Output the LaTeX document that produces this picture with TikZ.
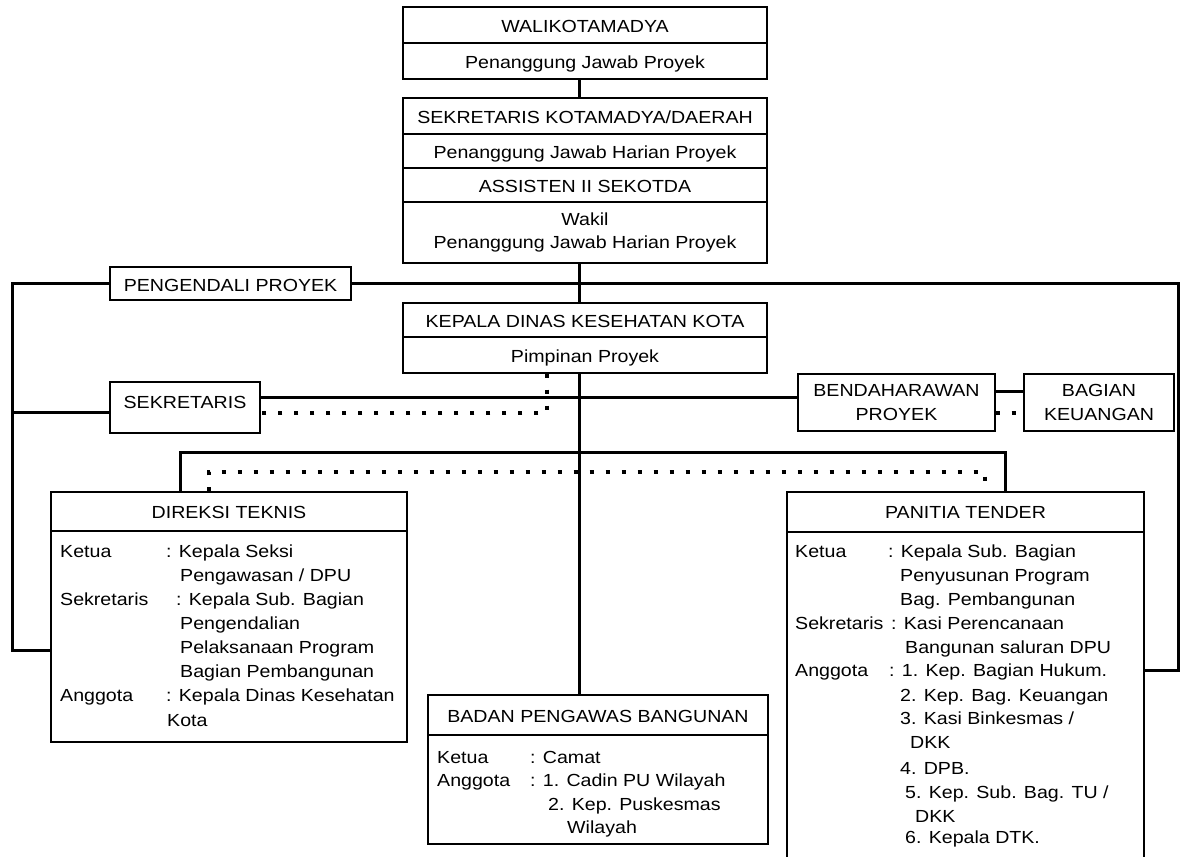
\documentclass[tikz,border=0pt]{standalone}
\usepackage{fontspec}
\setmainfont{Liberation Sans}[FakeStretch=1.12]
\begin{document}
\begin{tikzpicture}[x=1pt,y=-1pt,
  every node/.style={font=\fontsize{17.5}{23.5}\selectfont},
  box/.style={draw, line width=1.3pt, inner sep=0pt, align=center, text height=15pt, text depth=0pt},
  box2/.style={draw, line width=1.3pt, inner sep=0pt, align=center},
  txt/.style={inner sep=0pt, anchor=base west},
  conn/.style={line width=3pt},
  dot/.style={line width=3.5pt, dash pattern=on 4.5pt off 11.5pt},
]
\useasboundingbox (0,0) rectangle (1182,856);
\clip (0,0) rectangle (1182,856);
\fill[white] (0,0) rectangle (1182,856);

% coordinates for connector routing
\coordinate (sp) at (579,0);
\coordinate (L) at (12,0);
\coordinate (R) at (1178,0);
\coordinate (pl) at (12,650);
\coordinate (pr) at (1178,670);
\coordinate (sl) at (12,412);
\coordinate (s1) at (0,397);
\coordinate (bb) at (0,391);
\coordinate (db) at (0,413);
\coordinate (dk) at (547,413);
\coordinate (b1) at (180,452);
\coordinate (b2) at (1005,452);
\coordinate (d1) at (209,472);
\coordinate (d2) at (985,472);

% top boxes
\node[box, minimum width=364pt, minimum height=36pt] (w1) at (585,25) {WALIKOTAMADYA};
\node[box, minimum width=364pt, minimum height=36pt] (w2) at (585,61) {Penanggung Jawab Proyek};
\node[box, minimum width=364pt, minimum height=36pt] (sk1) at (585,116) {SEKRETARIS KOTAMADYA/DAERAH};
\node[box, minimum width=364pt, minimum height=34pt] (sk2) at (585,151) {Penanggung Jawab Harian Proyek};
\node[box, minimum width=364pt, minimum height=34pt] (sk3) at (585,185) {ASSISTEN II SEKOTDA};
\node[box2, minimum width=364pt, minimum height=61pt] (sk4) at (585,232.5) {Wakil\\ Penanggung Jawab Harian Proyek};
\node[box, minimum width=364pt, minimum height=34pt] (kp1) at (585,320) {KEPALA DINAS KESEHATAN KOTA};
\node[box, minimum width=364pt, minimum height=36pt] (kp2) at (585,355) {Pimpinan Proyek};

% side boxes
\node[box, minimum width=241pt, minimum height=33pt] (peng) at (230.5,283.5) {PENGENDALI PROYEK};
\node[box, minimum width=150pt, minimum height=51pt, text height=8pt, text depth=7pt] (sek) at (185,407.5) {SEKRETARIS};
\node[box2, minimum width=197pt, minimum height=57pt] (bend) at (896.5,402.5) {BENDAHARAWAN\\PROYEK};
\node[box2, minimum width=150pt, minimum height=57pt] (bag) at (1099,402.5) {BAGIAN\\KEUANGAN};

% lower boxes
\node[box, minimum width=356pt, minimum height=39pt, text height=13pt] (dir1) at (229,511.5) {DIREKSI TEKNIS};
\node[box2, minimum width=356pt, minimum height=211pt] (dir2) at (229,636.5) {};
\node[box, minimum width=357pt, minimum height=40pt, text height=13pt] (pan1) at (965.5,512) {PANITIA TENDER};
\node[box2, minimum width=357pt, minimum height=326pt] (pan2) at (965.5,695) {};
\node[box, minimum width=340pt, minimum height=40pt] (bad1) at (598,715) {BADAN PENGAWAS BANGUNAN};
\node[box2, minimum width=340pt, minimum height=109pt] (bad2) at (598,789.5) {};

% connectors
\draw[conn] (w2.south -| sp) -- (sk1.north -| sp);
\draw[conn] (sk4.south -| sp) -- (kp1.north -| sp);
\draw[conn] (kp2.south -| sp) -- (bad1.north -| sp);
\draw[conn] (peng.east) -- (peng.east -| R) -- (pr) -- (pr -| pan2.east);
\draw[conn] (peng.west) -- (peng.west -| L) -- (pl) -- (pl -| dir2.west);
\draw[conn] (sl) -- (sl -| sek.west);
\draw[conn] (sek.east |- s1) -- (bend.west |- s1);
\draw[conn] (bend.east |- bb) -- (bag.west |- bb);
\draw[conn] (dir1.north -| b1) -- (b1) -- (b2) -- (pan1.north -| b2);
\draw[dot] (kp2.south -| dk) -- (dk) -- (dk -| sek.east);
\draw[dot] (bend.east |- db) -- (bag.west |- db);
\draw[dot] (dir1.north -| d1) -- (d1) -- (d2) -- (pan1.north -| d2);

% DIREKSI TEKNIS text
\node[txt] (dt1) at (60,557) {Ketua};
\node[txt] (dt2) at (166,557) {: Kepala Seksi};
\node[txt] (dt3) at (180,581) {Pengawasan / DPU};
\node[txt] (dt4) at (60,605) {Sekretaris};
\node[txt] (dt5) at (176,605) {: Kepala Sub. Bagian};
\node[txt] (dt6) at (180,629) {Pengendalian};
\node[txt] (dt7) at (180,653) {Pelaksanaan Program};
\node[txt] (dt8) at (180,677) {Bagian Pembangunan};
\node[txt] (dt9) at (60,701) {Anggota};
\node[txt] (dt10) at (166,701) {: Kepala Dinas Kesehatan};
\node[txt] (dt11) at (167,726) {Kota};

% PANITIA TENDER text
\node[txt] (pt1) at (795,557) {Ketua};
\node[txt] (pt2) at (888,557) {: Kepala Sub. Bagian};
\node[txt] (pt3) at (900,581) {Penyusunan Program};
\node[txt] (pt4) at (900,605) {Bag. Pembangunan};
\node[txt] (pt5) at (795,629) {Sekretaris};
\node[txt] (pt6) at (891,629) {: Kasi Perencanaan};
\node[txt] (pt7) at (905,653) {Bangunan saluran DPU};
\node[txt] (pt8) at (795,676) {Anggota};
\node[txt] (pt9) at (889,676) {: 1. Kep. Bagian Hukum.};
\node[txt] (pt10) at (900,701) {2. Kep. Bag. Keuangan};
\node[txt] (pt11) at (900,724) {3. Kasi Binkesmas /};
\node[txt] (pt12) at (910,748) {DKK};
\node[txt] (pt13) at (900,774) {4. DPB.};
\node[txt] (pt14) at (905,798) {5. Kep. Sub. Bag. TU /};
\node[txt] (pt15) at (915,822) {DKK};
\node[txt] (pt16) at (905,843) {6. Kepala DTK.};

% BADAN PENGAWAS text
\node[txt] (bt1) at (437,763) {Ketua};
\node[txt] (bt2) at (530,763) {: Camat};
\node[txt] (bt3) at (437,786) {Anggota};
\node[txt] (bt4) at (530,786) {: 1. Cadin PU Wilayah};
\node[txt] (bt5) at (548,810) {2. Kep. Puskesmas};
\node[txt] (bt6) at (567,833) {Wilayah};
\end{tikzpicture}
\end{document}
